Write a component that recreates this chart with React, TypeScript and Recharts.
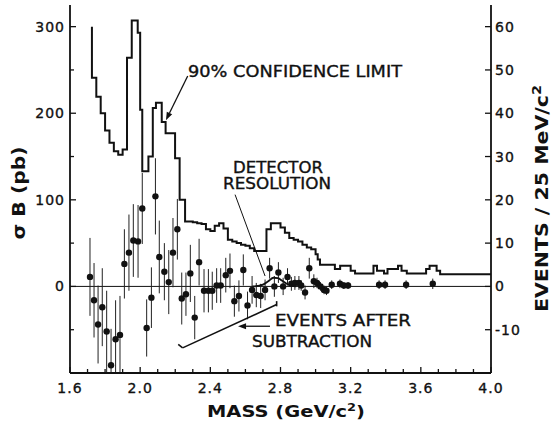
import React from 'react'
import { ComposedChart, Line, Scatter, XAxis, YAxis, ReferenceLine } from 'recharts'

// 90% confidence limit histogram, step edges (GeV/c^2, pb)
const limitMass = [1.725, 1.725, 1.75, 1.775, 1.8, 1.825, 1.85, 1.875, 1.9, 1.925, 1.952, 1.986, 2.0, 2.012, 2.047, 2.072, 2.09, 2.123, 2.145, 2.199, 2.225, 2.256, 2.3, 2.325, 2.35, 2.375, 2.4, 2.425, 2.45, 2.475, 2.5, 2.525, 2.55, 2.575, 2.6, 2.625, 2.65, 2.7, 2.72, 2.745, 2.8, 2.825, 2.85, 2.875, 2.9, 2.925, 2.95, 2.975, 3.0, 3.012, 3.025, 3.11, 3.14, 3.2, 3.225, 3.33, 3.35, 3.39, 3.41, 3.47, 3.49, 3.52, 3.54, 3.63, 3.65, 3.69, 3.71, 4.0]
const limitSigma = [300, 241, 219, 200, 180, 166, 156, 152, 158, 264, 307, 293, 204, 133, 150, 206, 212, 190, 177, 148, 100, 75, 74, 73, 72, 66, 64, 70, 73, 67, 54, 52, 50, 48, 47, 44, 41, 41, 66, 73, 68, 62, 56, 54, 52, 48, 45, 43, 37, 31, 25, 20, 24, 18, 15, 24, 18, 15, 20, 24, 18, 15, 15, 20, 24, 18, 14, 14]

// events after subtraction, with errors (pb)
const pointMass = [1.714, 1.737, 1.76, 1.784, 1.809, 1.834, 1.86, 1.885, 1.91, 1.936, 1.961, 1.988, 2.012, 2.037, 2.064, 2.087, 2.109, 2.138, 2.163, 2.187, 2.212, 2.237, 2.261, 2.286, 2.311, 2.336, 2.364, 2.389, 2.411, 2.436, 2.459, 2.488, 2.512, 2.537, 2.563, 2.588, 2.612, 2.638, 2.662, 2.687, 2.712, 2.738, 2.765, 2.788, 2.815, 2.84, 2.862, 2.882, 2.905, 2.918, 2.94, 2.964, 2.99, 3.008, 3.028, 3.048, 3.062, 3.092, 3.139, 3.161, 3.185, 3.362, 3.396, 3.516, 3.668]
const pointSigma = [11, -16, -44, -24, -52, -91, -61, -56, 26, 39, 53, 52, 90, -48, -13, 104, 34, 17, 5, 39, 66, -14, -9, 15, -36, 28, -5, -5, -5, 1, 1, 13, 18, -17, -11, 19, -22, -4, -10, -11, -4, 21, 0, 16, 0, 11, 3, 4, 4, 1, -7, 21, 6, 4, 0, -4, -5, 2, 3, 1, 1, 2, 2, 2, 3]
const pointError = [45, 43, 45, 45, 47, 42, 45, 45, 40, 44, 42, 42, 41, 33, 35, 44, 42, 33, 37, 40, 35, 30, 25, 33, 25, 27, 25, 25, 22, 20, 20, 20, 20, 18, 18, 18, 16, 16, 14, 14, 12, 12, 12, 12, 10, 10, 8, 8, 8, 6, 8, 12, 8, 6, 5, 5, 5, 5, 5, 4, 4, 5, 5, 5, 6]

// detector resolution curve
const resolutionMass = [2.64, 2.67, 2.7, 2.73, 2.76, 2.785, 2.81, 2.835, 2.86, 2.89]
const resolutionSigma = [0, 0.5, 2, 6, 10, 9.5, 6.5, 3, 1, 0]

const massTicks = [1.6, 1.7, 1.8, 1.9, 2.0, 2.1, 2.2, 2.3, 2.4, 2.5, 2.6, 2.7, 2.8, 2.9, 3.0, 3.1, 3.2, 3.3, 3.4, 3.5, 3.6, 3.7, 3.8, 3.9, 4.0]
const massLabels = [1.6, 2.0, 2.4, 2.8, 3.2, 3.6, 4.0]
const sigmaTicks = [-50, 0, 50, 100, 150, 200, 250, 300]
const sigmaLabels = [0, 100, 200, 300]
const eventTicks = [-10, 0, 10, 20, 30, 40, 50, 60]

const limitData = limitMass.map((m, i) => ({ m, v: limitSigma[i] }))
const pointData = pointMass.map((m, i) => ({ m, v: pointSigma[i], e: pointError[i] }))
const resolutionData = resolutionMass.map((m, i) => ({ m, v: resolutionSigma[i] }))

const font = '"DejaVu Sans", sans-serif'
const ink = '#111'

function MassTick({ x, y, payload }: any) {
  const major = massLabels.includes(payload.value)
  return (
    <g>
      <line x1={x} x2={x} y1={y} y2={y - (major ? 6 : 4)} stroke={ink} strokeWidth={1.3} />
      {major && (
        <text x={x} y={y + 20} textAnchor="middle" fontSize={14} fontFamily={font} letterSpacing={1} fill={ink}
          stroke={ink} strokeWidth={0.35}>
          {payload.value.toFixed(1)}
        </text>
      )}
    </g>
  )
}

function TopTick({ x, y, payload }: any) {
  const major = massLabels.includes(payload.value)
  return <line x1={x} x2={x} y1={y} y2={y + (major ? 6 : 4)} stroke={ink} strokeWidth={1.3} />
}

function SigmaTick({ x, y, payload }: any) {
  const major = sigmaLabels.includes(payload.value)
  return (
    <g>
      <line x1={x} x2={x + (major ? 6 : 4)} y1={y} y2={y} stroke={ink} strokeWidth={1.3} />
      {major && (
        <text x={x - 5} y={y + 5} textAnchor="end" fontSize={14} fontFamily={font} letterSpacing={1} fill={ink}
          stroke={ink} strokeWidth={0.35}>
          {payload.value}
        </text>
      )}
    </g>
  )
}

function EventTick({ x, y, payload }: any) {
  return (
    <g>
      <line x1={x} x2={x - 6} y1={y} y2={y} stroke={ink} strokeWidth={1.3} />
      <text x={x + 4} y={y + 5} textAnchor="start" fontSize={14} fontFamily={font} letterSpacing={1} fill={ink}
        stroke={ink} strokeWidth={0.35}>
        {payload.value}
      </text>
    </g>
  )
}

function Dot({ cx, cy }: any) {
  return <circle cx={cx} cy={cy} r={3.2} fill={ink} />
}

function arrow(props: any) {
  const { x1, y1, x2, y2 } = props
  const a = Math.atan2(y2 - y1, x2 - x1)
  const l = 8
  const w = 3
  const bx = x2 - l * Math.cos(a)
  const by = y2 - l * Math.sin(a)
  const px = -Math.sin(a) * w
  const py = Math.cos(a) * w
  return (
    <g>
      <line x1={x1} y1={y1} x2={bx} y2={by} stroke={ink} strokeWidth={1.3} />
      <polygon points={`${x2},${y2} ${bx + px},${by + py} ${bx - px},${by - py}`} fill={ink} />
    </g>
  )
}

const axisLine = { stroke: ink, strokeWidth: 1.8 }
const noteStyle = { stroke: ink, strokeWidth: 0.35 }

export default function App() {
  return (
    <div style={{ position: 'absolute', left: 0, top: 0, width: 555, height: 429, background: '#fff' }}>
      <ComposedChart width={555} height={429} margin={{ top: 5, right: 4, bottom: 26, left: 10 }}>
        <XAxis xAxisId="b" type="number" dataKey="m" domain={[1.6, 4.0]} ticks={massTicks} interval={0} allowDataOverflow
          height={30} tick={<MassTick />} tickLine={false} tickSize={0} tickMargin={0} axisLine={axisLine} />
        <XAxis xAxisId="t" orientation="top" type="number" dataKey="m" domain={[1.6, 4.0]} ticks={massTicks} interval={0}
          allowDataOverflow height={0} tick={<TopTick />} tickLine={false} tickSize={0} tickMargin={0} axisLine={axisLine} />
        <YAxis yAxisId="l" type="number" dataKey="v" domain={[-100, 325]} ticks={sigmaTicks} interval={0} allowDataOverflow
          width={60} tick={<SigmaTick />} tickLine={false} tickSize={0} tickMargin={0} axisLine={axisLine} />
        <YAxis yAxisId="r" orientation="right" type="number" domain={[-20, 65]} ticks={eventTicks} interval={0}
          allowDataOverflow width={60} tick={<EventTick />} tickLine={false} tickSize={0} tickMargin={0} axisLine={axisLine} />

        <ReferenceLine xAxisId="b" yAxisId="l" y={0} stroke={ink} strokeWidth={1} />

        {/* error bars, clipped to the frame */}
        {pointData.map((p) => (
          <ReferenceLine key={`err-${p.m}`} xAxisId="b" yAxisId="l" ifOverflow="hidden"
            segment={[{ x: p.m, y: p.v - p.e }, { x: p.m, y: p.v + p.e }]} stroke="#222" strokeWidth={1} />
        ))}

        <Line xAxisId="b" yAxisId="l" data={limitData} dataKey="v" type="stepAfter" stroke={ink} strokeWidth={2}
          dot={false} isAnimationActive={false} />
        <Line xAxisId="b" yAxisId="l" data={resolutionData} dataKey="v" type="monotone" stroke={ink} strokeWidth={1.8}
          dot={false} isAnimationActive={false} />
        <Scatter xAxisId="b" yAxisId="l" data={pointData} dataKey="v" shape={<Dot />} isAnimationActive={false} />

        {/* annotation pointers */}
        <ReferenceLine xAxisId="b" yAxisId="l" segment={[{ x: 2.271, y: 243 }, { x: 2.147, y: 192 }]} shape={arrow} />
        <ReferenceLine xAxisId="b" yAxisId="l" segment={[{ x: 2.541, y: 106 }, { x: 2.712, y: 12 }]} stroke={ink} strokeWidth={1} />
        <ReferenceLine xAxisId="b" yAxisId="l" segment={[{ x: 2.74, y: -46 }, { x: 2.558, y: -46 }]} shape={arrow} />
        <ReferenceLine xAxisId="b" yAxisId="l" segment={[{ x: 2.217, y: -67 }, { x: 2.242, y: -71 }]} stroke={ink} strokeWidth={1.6} />
        <ReferenceLine xAxisId="b" yAxisId="l" segment={[{ x: 2.242, y: -71 }, { x: 2.778, y: -21 }]} stroke={ink} strokeWidth={1.6} />
        <ReferenceLine xAxisId="b" yAxisId="l" segment={[{ x: 2.778, y: -17 }, { x: 2.778, y: -23 }]} stroke={ink} strokeWidth={1.6} />
      </ComposedChart>

      <svg width={555} height={429} style={{ position: 'absolute', left: 0, top: 0, pointerEvents: 'none' }}
        fontFamily={font} fill={ink}>
        <text x={188} y={77} fontSize={15} textLength={214} lengthAdjust="spacingAndGlyphs" {...noteStyle}>90% CONFIDENCE LIMIT</text>
        <text x={233} y={172.5} fontSize={15} textLength={90} lengthAdjust="spacingAndGlyphs" {...noteStyle}>DETECTOR</text>
        <text x={223} y={189} fontSize={15} textLength={108} lengthAdjust="spacingAndGlyphs" {...noteStyle}>RESOLUTION</text>
        <text x={275} y={326} fontSize={15} textLength={136} lengthAdjust="spacingAndGlyphs" {...noteStyle}>EVENTS AFTER</text>
        <text x={252} y={346.5} fontSize={15} textLength={120} lengthAdjust="spacingAndGlyphs" {...noteStyle}>SUBTRACTION</text>

        <text transform="translate(25,193) rotate(-90)" textAnchor="middle" fontSize={17} fontWeight="bold"
          textLength={93} lengthAdjust="spacingAndGlyphs">σ B (pb)</text>
        <text transform="translate(548,198.5) rotate(-90)" textAnchor="middle" fontSize={17} fontWeight="bold"
          textLength={227} lengthAdjust="spacingAndGlyphs">
          EVENTS / 25 MeV/c<tspan dy={-7} fontSize={12}>2</tspan>
        </text>
        <text x={286} y={417} textAnchor="middle" fontSize={16.5} fontWeight="bold" textLength={158}
          lengthAdjust="spacingAndGlyphs">
          MASS (GeV/c<tspan dy={-6} fontSize={11}>2</tspan><tspan dy={6}>)</tspan>
        </text>
      </svg>
    </div>
  )
}
